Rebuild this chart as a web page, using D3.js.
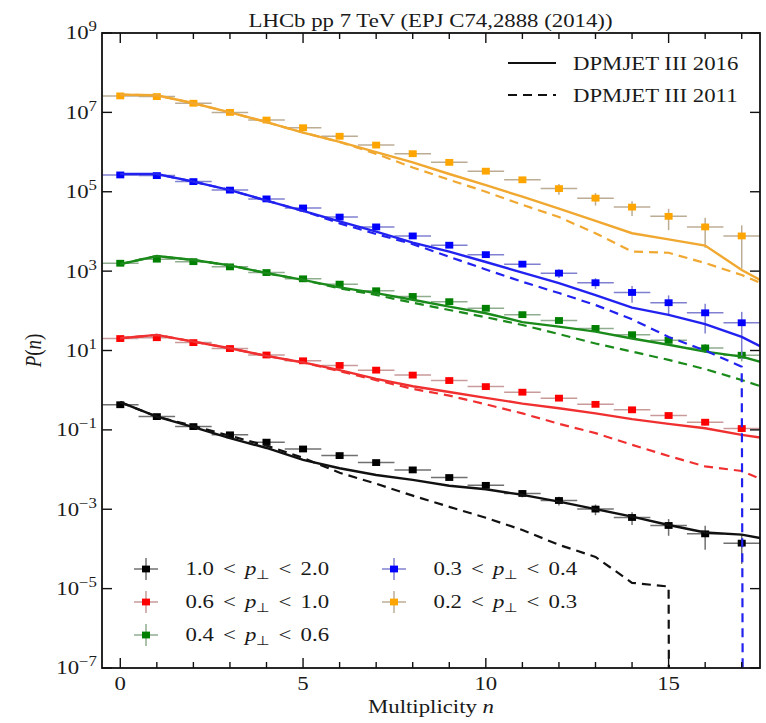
<!DOCTYPE html>
<html>
<head>
<meta charset="utf-8">
<script src="https://cdn.jsdelivr.net/npm/d3@7/dist/d3.min.js"></script>
<style>
  html, body { margin: 0; padding: 0; background: #fff; }
  svg { display: block; }
  text { font-family: "Liberation Serif", "Times New Roman", serif; fill: #1a1a1a; }
</style>
</head>
<body>
<svg id="chart" width="766" height="723"></svg>
<script>
// ---------------- DATA ----------------
const multiplicity = [0,1,2,3,4,5,6,7,8,9,10,11,12,13,14,15,16,17];
const modelN = [0,1,2,3,4,5,6,7,8,9,10,11,12,13,14,15,16,17,18];

// LHCb data P(n) (offset per pT bin as in the figure)
const data_pt_10_20 = [0.43,0.216,0.121,0.075,0.049,0.033,0.0225,0.015,0.0098,0.0063,0.0040,0.0025,0.00166,0.00101,6.2e-4,3.9e-4,2.4e-4,1.4e-4];
const data_pt_06_10 = [20,21,15.8,11.2,7.7,5.5,4.2,3.2,2.4,1.75,1.23,0.89,0.63,0.44,0.32,0.23,0.156,0.108];
const data_pt_04_06 = [1580,2000,1730,1280,920,640,470,320,230,170,116,80,57,36,25,18,11.6,7.6];
const data_pt_03_04 = [2.65e5,2.55e5,1.8e5,1.1e5,6.6e4,3.9e4,2.3e4,1.3e4,7.7e3,4.5e3,2.6e3,1.5e3,890,510,290,160,89,50];
const data_pt_02_03 = [2.6e7,2.5e7,1.7e7,1.0e7,6.4e6,4.1e6,2.5e6,1.5e6,9.1e5,5.5e5,3.3e5,2.0e5,1.2e5,6.9e4,4.1e4,2.4e4,1.3e4,7.7e3];

// relative uncertainties of the data points
const err_pt_10_20 = [.03,.03,.03,.04,.05,.06,.07,.08,.1,.12,.15,.2,.25,.3,.35,.45,.6,.7];
const err_pt_06_10 = [.03,.03,.03,.03,.03,.03,.04,.04,.05,.05,.06,.07,.08,.1,.12,.15,.18,.2];
const err_pt_04_06 = [.03,.03,.03,.03,.03,.04,.04,.05,.05,.06,.07,.08,.1,.12,.15,.2,.25,.3];
const err_pt_03_04 = [.03,.03,.03,.03,.04,.04,.05,.05,.06,.08,.1,.15,.25,.3,.45,.53,.7,.88];
const err_pt_02_03 = [.03,.03,.03,.03,.04,.04,.05,.05,.06,.07,.1,.15,.3,.35,.4,.55,.7,.85];

// DPMJET III 2016 (solid)
const dpm2016_pt_10_20 = [0.50,0.216,0.117,0.062,0.035,0.0175,0.0108,0.0073,0.0055,0.0039,0.0032,0.0023,0.00156,0.00101,6.5e-4,4.0e-4,2.6e-4,2.3e-4,1.55e-4];
const dpm2016_pt_06_10 = [20.4,24.7,16.7,11.4,7.3,5.0,3.2,1.93,1.26,0.90,0.64,0.46,0.35,0.26,0.186,0.142,0.110,0.075,0.055];
const dpm2016_pt_04_06 = [1500,2400,1900,1400,890,600,390,280,190,128,87,52,40,30,20,14,9.4,7.0,3.9];
const dpm2016_pt_03_04 = [2.8e5,2.8e5,1.8e5,1.1e5,6.0e4,3.3e4,1.8e4,9.9e3,5.2e3,3.1e3,1.7e3,920,500,250,120,79,46,22,7.6];
const dpm2016_pt_02_03 = [2.8e7,2.7e7,1.7e7,1.0e7,5.7e6,3.1e6,1.8e6,1.0e6,5.5e5,2.8e5,1.46e5,7.5e4,3.75e4,1.84e4,9.0e3,6.3e3,4.4e3,1.07e3,340];

// DPMJET III 2011 (dashed); 0 = empty bin
const dpm2011_pt_10_20 = [0.50,0.216,0.126,0.071,0.040,0.0197,0.0083,0.0044,0.0022,0.00115,6.1e-4,3.0e-4,1.27e-4,6.3e-5,1.4e-5,1.13e-5,0,0,0];
const dpm2011_pt_06_10 = [20.4,24.7,16.7,11.4,7.3,5.0,3.0,1.8,1.08,0.73,0.44,0.26,0.142,0.083,0.042,0.022,0.012,0.0092,0.0037];
const dpm2011_pt_04_06 = [1500,2400,1900,1400,890,600,370,250,160,105,69,44,26,15,9.4,5.8,3.4,1.8,0.9];
const dpm2011_pt_03_04 = [2.8e5,2.8e5,1.8e5,1.1e5,6.0e4,3.3e4,1.6e4,8.6e3,4.8e3,2.3e3,1.1e3,540,280,140,61,22,10,3.9,0];
const dpm2011_pt_02_03 = [2.8e7,2.7e7,1.7e7,1.0e7,5.7e6,3.1e6,1.8e6,9.0e5,4.1e5,2.0e5,1.0e5,4.7e4,2.3e4,9.0e3,3.1e3,2.9e3,1.6e3,800,330];

const seriesLabels = [["1.0","2.0"],["0.6","1.0"],["0.4","0.6"],["0.3","0.4"],["0.2","0.3"]];

const xMajorTicks = [0,5,10,15];
const yTickExponents = [-7,-5,-3,-1,1,3,5,7,9];
const titleText = "LHCb pp 7 TeV (EPJ C74,2888 (2014))";
const modelLabels = ["DPMJET III 2016","DPMJET III 2011"];

// ---------------- STYLE ----------------
const series = [
  {data: data_pt_10_20, err: err_pt_10_20, m16: dpm2016_pt_10_20, m11: dpm2011_pt_10_20, color:"#000000", line:"#111111", ecolor:"#707070"},
  {data: data_pt_06_10, err: err_pt_06_10, m16: dpm2016_pt_06_10, m11: dpm2011_pt_06_10, color:"#ff0000", line:"#f03030", ecolor:"#c99a9a"},
  {data: data_pt_04_06, err: err_pt_04_06, m16: dpm2016_pt_04_06, m11: dpm2011_pt_04_06, color:"#008000", line:"#1a8a1a", ecolor:"#90ad90"},
  {data: data_pt_03_04, err: err_pt_03_04, m16: dpm2016_pt_03_04, m11: dpm2011_pt_03_04, color:"#0000ff", line:"#2222f0", ecolor:"#8080d0"},
  {data: data_pt_02_03, err: err_pt_02_03, m16: dpm2016_pt_02_03, m11: dpm2011_pt_02_03, color:"#ffa500", line:"#f0a830", ecolor:"#bcac94"}
];
series.forEach((s,i)=> s.label = seriesLabels[i]);

const L = 102, R = 760, T = 33, B = 668;
const SX = 1.2;       // horizontal text stretch of the original
const FS = 19;

const svg = d3.select("#chart");
const x = d3.scaleLinear().domain([-0.5, 17.5]).range([L, R]);
const y = d3.scaleLog().domain([1e-7, 1e9]).range([B, T]);
const yv = v => y(v > 0 ? v : 1e-300);

svg.append("defs").append("clipPath").attr("id","clip")
  .append("rect").attr("x",L).attr("y",T).attr("width",R-L).attr("height",B-T);

function stext(g, px, py, anchor, extra) {
  return g.append("text")
    .attr("transform", `translate(${px},${py}) scale(${SX},1)` + (extra||""))
    .attr("text-anchor", anchor)
    .style("font-size", FS + "px");
}

const plot = svg.append("g").attr("clip-path","url(#clip)");

// data: error bars + markers
series.forEach(s => {
  const g = plot.append("g");
  multiplicity.forEach((n,i) => {
    const v = s.data[i], e = Math.min(s.err[i], 0.95);
    g.append("line").attr("x1", x(n-0.5)).attr("x2", x(n+0.5)).attr("y1", y(v)).attr("y2", y(v))
      .attr("stroke", s.ecolor).attr("stroke-width", 1.5);
    g.append("line").attr("x1", x(n)).attr("x2", x(n)).attr("y1", y(v*(1+e))).attr("y2", y(v*(1-e)))
      .attr("stroke", s.ecolor).attr("stroke-width", 1.5);
  });
  g.selectAll("rect").data(multiplicity).join("rect")
    .attr("x", n => x(n) - 4).attr("y", (n,i) => y(s.data[i]) - 3.4)
    .attr("width", 8).attr("height", 6.8).attr("fill", s.color);
});

// model lines
const line = d3.line().x((d,i) => x(modelN[i])).y(d => yv(d));
series.forEach(s => {
  plot.append("path").attr("d", line(s.m11)).attr("fill","none")
    .attr("stroke", s.line).attr("stroke-width", 2.2).attr("stroke-dasharray","9,6");
  plot.append("path").attr("d", line(s.m16)).attr("fill","none")
    .attr("stroke", s.line).attr("stroke-width", 2.4);
});

// frame
svg.append("rect").attr("x",L).attr("y",T).attr("width",R-L).attr("height",B-T)
  .attr("fill","none").attr("stroke","#111").attr("stroke-width",1.8);

// x ticks
const ax = svg.append("g").attr("stroke","#111").attr("stroke-width",1.4);
d3.range(0,18).forEach(n => {
  const len = xMajorTicks.includes(n) ? 10 : 6;
  ax.append("line").attr("x1",x(n)).attr("x2",x(n)).attr("y1",B).attr("y2",B-len);
  ax.append("line").attr("x1",x(n)).attr("x2",x(n)).attr("y1",T).attr("y2",T+len);
});
// y ticks
yTickExponents.forEach(ex => {
  const yy = y(Math.pow(10, ex));
  ax.append("line").attr("x1",L).attr("x2",L+10).attr("y1",yy).attr("y2",yy);
  ax.append("line").attr("x1",R).attr("x2",R-10).attr("y1",yy).attr("y2",yy);
});

// x tick labels
xMajorTicks.forEach(n => {
  stext(svg, x(n), 690, "middle").text(n);
});
// y tick labels
yTickExponents.forEach(ex => {
  const yy = y(Math.pow(10, ex));
  const t = stext(svg, 97, yy + 6.4, "end");
  t.append("tspan").text("10");
  t.append("tspan").attr("dy", -8).style("font-size","14px").text(ex < 0 ? "\u2212" + (-ex) : ex);
});

// axis labels
const xl = stext(svg, (L+R)/2, 713, "middle");
xl.append("tspan").text("Multiplicity ");
xl.append("tspan").style("font-style","italic").text("n");

const yl = svg.append("text").attr("transform", `translate(41,${(T+B)/2}) scale(${SX},1) rotate(-90)`)
  .attr("text-anchor","middle").style("font-size", FS + "px");
yl.append("tspan").style("font-style","italic").text("P");
yl.append("tspan").text("(");
yl.append("tspan").style("font-style","italic").text("n");
yl.append("tspan").text(")");

// title
stext(svg, 430.5, 27, "middle").text(titleText);

// model legend (top right)
const lg = svg.append("g");
[[63, null],[95, "9,6"]].forEach((r,i) => {
  lg.append("line").attr("x1",508).attr("x2",556).attr("y1",r[0]).attr("y2",r[0])
    .attr("stroke","#111").attr("stroke-width",2.2).attr("stroke-dasharray", r[1]);
  stext(lg, 573, r[0] + 6.5, "start").text(modelLabels[i]);
});

// data legend (bottom)
const legPos = [[146,569],[146,602],[146,635],[394,569],[394,602]];
series.forEach((s,i) => {
  const [mx,my] = legPos[i];
  const g = svg.append("g");
  g.append("line").attr("x1",mx-12).attr("x2",mx+12).attr("y1",my).attr("y2",my).attr("stroke",s.ecolor).attr("stroke-width",1.5);
  g.append("line").attr("x1",mx).attr("x2",mx).attr("y1",my-11).attr("y2",my+11).attr("stroke",s.ecolor).attr("stroke-width",1.5);
  g.append("rect").attr("x",mx-4).attr("y",my-3.4).attr("width",8).attr("height",6.8).attr("fill",s.color);
  const t = stext(g, mx + 39.5, my + 6.4, "start");
  const sp = 7.6;
  t.append("tspan").text(s.label[0]);
  t.append("tspan").attr("dx", sp).text("<");
  t.append("tspan").attr("dx", sp).style("font-style","italic").text("p");
  t.append("tspan").attr("dy", 4).style("font-size","13px").text("\u22A5");
  t.append("tspan").attr("dx", sp).attr("dy", -4).text("<");
  t.append("tspan").attr("dx", sp).text(s.label[1]);
});
</script>
</body>
</html>
